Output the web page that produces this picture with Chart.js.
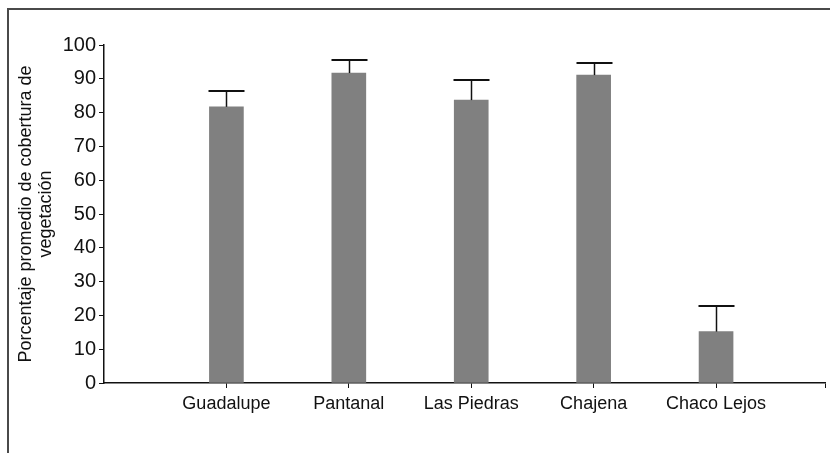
<!DOCTYPE html>
<html>
<head>
<meta charset="utf-8">
<script src="https://cdn.jsdelivr.net/npm/chart.js@4/dist/chart.umd.min.js"></script>
<style>
  html, body { margin: 0; padding: 0; background: #fff; }
  #wrap { position: relative; width: 830px; height: 453px; }
  #frame { position: absolute; left: 7px; top: 8px; right: 0; bottom: 0;
           border-top: 2px solid #4a4a4a; border-left: 2px solid #4a4a4a; }
  canvas { position: absolute; left: 0; top: 0; }
</style>
</head>
<body>
<div id="wrap">
  <div id="frame"></div>
  <canvas id="chart" width="830" height="453"></canvas>
</div>
<script>
// sitios y cobertura promedio (%) con su límite superior (media + error)
const sites = ['Guadalupe', 'Pantanal', 'Las Piedras', 'Chajena', 'Chaco Lejos'];
const coverMean = [81.7, 91.7, 83.7, 91.1, 15.2];
const coverUpper = [86.5, 95.6, 89.6, 94.6, 22.7];
const yTicks = [0, 10, 20, 30, 40, 50, 60, 70, 80, 90, 100];

const FONT = '"Liberation Sans", Arial, Helvetica, sans-serif';

// barras de error (solo hacia arriba, con tapa)
const errorBars = {
    id: 'errorBars',
    afterDatasetsDraw(chart) {
        const xs = chart.scales.x;
        const ys = chart.scales.y;
        const ctx = chart.ctx;
        ctx.save();
        ctx.strokeStyle = '#111';
        coverMean.forEach((v, i) => {
            const x = Math.round(xs.getPixelForValue(i + 1)) + 0.5;
            const y0 = ys.getPixelForValue(v);
            const y1 = Math.round(ys.getPixelForValue(coverUpper[i]));
            ctx.lineWidth = 1.5;
            ctx.beginPath();
            ctx.moveTo(x, y0);
            ctx.lineTo(x, y1);
            ctx.stroke();
            ctx.lineWidth = 2;
            ctx.beginPath();
            ctx.moveTo(x - 18, y1);
            ctx.lineTo(x + 18, y1);
            ctx.stroke();
        });
        ctx.restore();
    }
};

new Chart(document.getElementById('chart'), {
    type: 'bar',
    data: {
        datasets: [{
            data: sites.map((s, i) => ({ x: i + 1, y: coverMean[i] })),
            backgroundColor: '#808080',
            borderWidth: 0,
            barThickness: 34
        }]
    },
    options: {
        responsive: false,
        animation: false,
        layout: { padding: { top: 45, right: 4, left: 0, bottom: 0 } },
        plugins: { legend: { display: false }, tooltip: { enabled: false } },
        scales: {
            x: {
                type: 'linear',
                offset: false,
                min: 0,
                max: 5.89,
                afterBuildTicks: scale => {
                    scale.ticks = sites.map((s, i) => ({ value: i + 1 })).concat([{ value: 5.89 }]);
                },
                afterFit: scale => { scale.height = 70; },
                ticks: {
                    autoSkip: false,
                    maxRotation: 0,
                    padding: 5,
                    color: '#111',
                    font: { family: FONT, size: 18 },
                    callback: (v, idx) => sites[idx] || ''
                },
                grid: { offset: false, drawOnChartArea: false, drawTicks: true, tickLength: 5, color: '#111' },
                border: { color: '#111', width: 1.5 }
            },
            y: {
                min: 0,
                max: 100,
                afterBuildTicks: scale => {
                    scale.ticks = yTicks.map(v => ({ value: v }));
                },
                afterFit: scale => { scale.width = 104; },
                ticks: {
                    padding: 3,
                    color: '#111',
                    font: { family: FONT, size: 20 }
                },
                grid: { drawOnChartArea: false, drawTicks: true, tickLength: 5, color: '#111' },
                border: { color: '#111', width: 1.5 },
                title: {
                    display: true,
                    text: ['Porcentaje promedio de cobertura de', 'vegetación'],
                    color: '#111',
                    font: { family: FONT, size: 18, lineHeight: 1.1 },
                    padding: { top: 16, bottom: 0 }
                }
            }
        }
    },
    plugins: [errorBars]
});
</script>
</body>
</html>
